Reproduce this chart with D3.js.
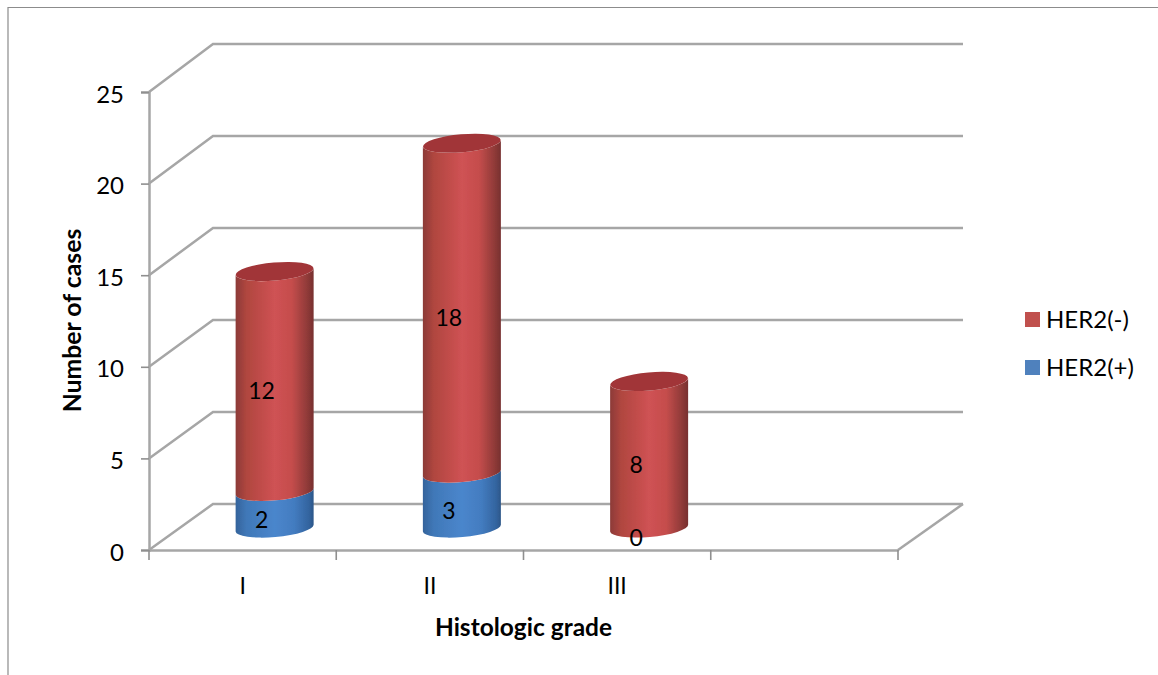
<!DOCTYPE html>
<html>
<head>
<meta charset="utf-8">
<script src="https://cdnjs.cloudflare.com/ajax/libs/d3/7.8.5/d3.min.js"></script>
<style>
html, body { margin: 0; padding: 0; background: #fff; }
svg { display: block; }
text { font-family: Lato, "Open Sans", sans-serif; fill: #000; }
</style>
</head>
<body>
<div id="chart"></div>
<script>
// Histologic grade vs. HER2 status, drawn as stacked cylinders in a 3D-style frame
const grades = ["I", "II", "III", ""];
const her2Positive = [2, 3, 0];
const her2Negative = [12, 18, 8];
const yTicks = [0, 5, 10, 15, 20, 25];
const seriesNames = ["HER2(-)", "HER2(+)"];
const seriesColors = ["#c0504d", "#4f81bd"];
const xTitle = "Histologic grade";
const yTitle = "Number of cases";

const width = 1158, height = 675;
const svg = d3.select("#chart").append("svg").attr("width", width).attr("height", height);

// Front plane and back wall of the frame share one value domain
const x = d3.scaleBand().domain(grades).range([149, 898]);
const y = d3.scaleLinear().domain([0, 25]).range([550, 92]);
const yBack = d3.scaleLinear().domain([0, 25]).range([504, 44]);
const depthX = 65;
const gridColor = "#a6a6a6";

// Page frame
svg.append("path")
  .attr("d", `M1158,7.5H8V675`)
  .attr("fill", "none").attr("stroke", "#8c8c8c").attr("stroke-width", 1.2);

// Gridlines along the back wall and side wall
const grid = svg.append("g").attr("fill", "none").attr("stroke", gridColor).attr("stroke-width", 2.5);
grid.selectAll("path.wall").data(yTicks).join("path").attr("class", "wall")
  .attr("d", d => `M${x.range()[0]},${y(d)}L${x.range()[0] + depthX - 1},${yBack(d)}H${x.range()[1] + depthX}`);
grid.append("path")
  .attr("d", `M${x.range()[1]},${y(0)}L${x.range()[1] + depthX},${yBack(0)}`);

// Value axis
const yAxis = svg.append("g").attr("transform", `translate(${x.range()[0]},0)`)
  .call(d3.axisLeft(y).tickValues(yTicks).tickSize(8).tickPadding(17));
yAxis.select(".domain").attr("stroke", gridColor).attr("stroke-width", 2.5);
yAxis.selectAll("line").attr("stroke", "#8f8f8f").attr("stroke-width", 1.6);
yAxis.selectAll("text").style("font-size", "24px").attr("dy", "0.42em");

// Category axis: labels sit at band centres, tick marks at band edges
const xAxis = svg.append("g").attr("transform", `translate(0,${y(0)})`)
  .call(d3.axisBottom(x).tickSize(0).tickPadding(28));
xAxis.select(".domain").attr("stroke", gridColor).attr("stroke-width", 2.5);
xAxis.selectAll("text").style("font-size", "23px");
const edges = grades.map(g => x(g)).concat(x.range()[1]);
xAxis.selectAll("line.edge").data(edges).join("line").attr("class", "edge")
  .attr("x1", d => d).attr("x2", d => d).attr("y1", 0).attr("y2", 10)
  .attr("stroke", "#8f8f8f").attr("stroke-width", 1.6);

// Shading across a cylinder face
const defs = svg.append("defs");
function shade(id, stops) {
  const g = defs.append("linearGradient").attr("id", id);
  stops.forEach(([o, c]) => g.append("stop").attr("offset", o).attr("stop-color", c));
}
shade("redBody", [[0, "#8c3a38"], [0.14, "#b0463f"], [0.5, "#cf5254"], [0.72, "#c54d4c"], [0.92, "#8f3a38"], [1, "#77302f"]]);
shade("blueBody", [[0, "#34639b"], [0.14, "#4078b8"], [0.5, "#4a86cc"], [0.75, "#437cc0"], [0.94, "#33649f"], [1, "#2c5688"]]);
defs.append("filter").attr("id", "soft").append("feGaussianBlur").attr("stdDeviation", 0.6);

// Cylinder geometry
const rx = 39, ry = 9, tilt = 5;
const tiltRise = rx * Math.sin(tilt * Math.PI / 180);
const baseLift = y(0) - 528;
const cx = g => x(g) + x.bandwidth() / 2 + 32;
const vy = v => y(v) - baseLift;
const frontArc = (c, yy, dir) => dir > 0
  ? `A${rx},${ry} ${-tilt} 0 0 ${c + rx},${yy - tiltRise}`
  : `A${rx},${ry} ${-tilt} 0 1 ${c - rx},${yy + tiltRise}`;

function segment(c, y0, y1) {
  return `M${c - rx},${y1 + tiltRise}` +
         `L${c - rx},${y0 + tiltRise}` + frontArc(c, y0, 1) +
         `L${c + rx},${y1 - tiltRise}` + frontArc(c, y1, -1) + "Z";
}

const cylinders = svg.append("g").attr("filter", "url(#soft)");
const shown = grades.slice(0, her2Positive.length);

// Blue segment at the base, red stacked on top of it
cylinders.selectAll("path.pos").data(shown.filter((g, i) => her2Positive[i] > 0)).join("path").attr("class", "pos")
  .attr("d", g => { const i = grades.indexOf(g); return segment(cx(g), vy(0), vy(her2Positive[i])); })
  .attr("fill", "url(#blueBody)");
cylinders.selectAll("path.neg").data(shown).join("path").attr("class", "neg")
  .attr("d", (g, i) => segment(cx(g), vy(her2Positive[i]), vy(her2Positive[i] + her2Negative[i])))
  .attr("fill", "url(#redBody)");
cylinders.selectAll("ellipse.cap").data(shown).join("ellipse").attr("class", "cap")
  .attr("cx", g => cx(g))
  .attr("cy", (g, i) => vy(her2Positive[i] + her2Negative[i]))
  .attr("rx", rx).attr("ry", ry)
  .attr("transform", (g, i) => `rotate(${-tilt} ${cx(g)} ${vy(her2Positive[i] + her2Negative[i])})`)
  .attr("fill", "#a13638");

// Value labels at each segment's midpoint on the front of the cylinder
const labelDx = 19;
const labels = svg.append("g").attr("text-anchor", "middle").style("font-size", "23px");
shown.forEach((g, i) => {
  const a = her2Positive[i], b = her2Negative[i];
  labels.append("text").attr("x", x(g) + x.bandwidth() / 2 + labelDx)
    .attr("y", vy(a / 2) + ry + 1).attr("dy", "0.35em").text(a);
  labels.append("text").attr("x", x(g) + x.bandwidth() / 2 + labelDx)
    .attr("y", vy(a + b / 2) + ry + 1).attr("dy", "0.35em").text(b);
});

// Axis titles
svg.append("text").attr("x", 523.5).attr("y", 636).attr("text-anchor", "middle")
  .style("font-size", "24.5px").style("font-weight", 700).text(xTitle);
svg.append("text").attr("transform", "translate(81,320.5) rotate(-90)").attr("text-anchor", "middle")
  .style("font-size", "24.8px").style("font-weight", 700).text(yTitle);

// Legend
const legend = svg.append("g").selectAll("g").data(seriesNames).join("g")
  .attr("transform", (d, i) => `translate(1025,${312 + i * 48})`);
legend.append("rect").attr("width", 15).attr("height", 15).attr("fill", (d, i) => seriesColors[i]);
legend.append("text").attr("x", 21).attr("y", 8).attr("dy", "0.35em")
  .style("font-size", "24px").text(d => d);
</script>
</body>
</html>
